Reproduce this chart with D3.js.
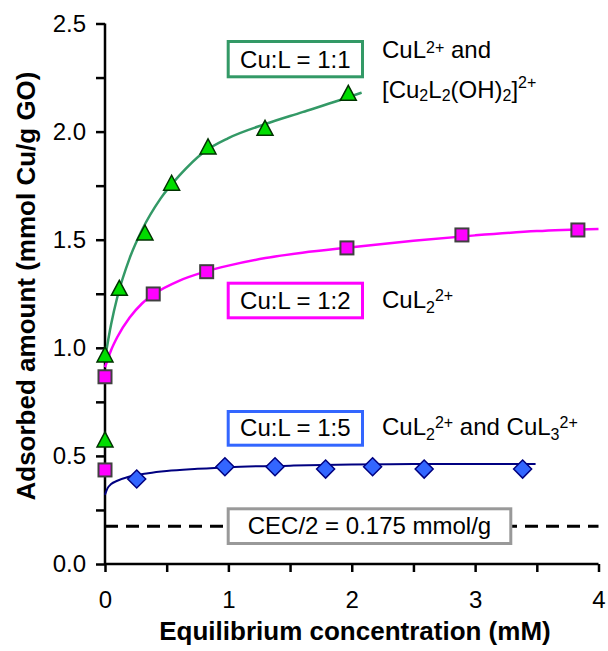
<!DOCTYPE html>
<html>
<head>
<meta charset="utf-8">
<script src="https://cdn.jsdelivr.net/npm/d3@7"></script>
<style>
  body { margin: 0; background: white; }
  svg { font-family: Arial, "Liberation Sans", sans-serif; }
</style>
</head>
<body>
<svg id="chart"></svg>
<script>
// points: [concentration mM, adsorbed mmol/g]
const ratio11 = [[0, 0.574], [0, 0.967], [0.116, 1.275], [0.324, 1.531], [0.54, 1.761], [0.835, 1.929], [1.297, 2.015], [1.972, 2.177]];
const ratio12 = [[0, 0.435], [0, 0.866], [0.391, 1.249], [0.824, 1.352], [1.961, 1.462], [2.893, 1.522], [3.833, 1.545]];
const ratio15 = [[0.257, 0.393], [0.972, 0.45], [1.378, 0.45], [1.788, 0.439], [2.169, 0.45], [2.587, 0.439], [3.385, 0.439]];

// fitted curves
const fit11 = [[0, 0.95], [0.05, 1.11], [0.1, 1.235], [0.2, 1.415], [0.3, 1.545], [0.45, 1.69], [0.6, 1.795], [0.8, 1.905], [1.0, 1.97], [1.3, 2.035], [1.6, 2.09], [1.9, 2.145], [2.08, 2.18]];
const fit12 = [[0, 0.91], [0.05, 0.99], [0.1, 1.05], [0.2, 1.14], [0.3, 1.205], [0.4, 1.25], [0.6, 1.31], [0.8, 1.35], [1.0, 1.38], [1.3, 1.415], [1.6, 1.44], [2.0, 1.465], [2.5, 1.495], [3.0, 1.52], [3.5, 1.54], [4.0, 1.55]];
const fit15 = [[0, 0.32], [0.02, 0.35], [0.05, 0.37], [0.1, 0.385], [0.2, 0.405], [0.35, 0.42], [0.5, 0.43], [0.75, 0.44], [1.0, 0.448], [1.5, 0.455], [2.0, 0.46], [2.5, 0.462], [3.0, 0.463], [3.49, 0.463]];

const cecHalf = 0.175;
const xTicks = [0, 0.5, 1, 1.5, 2, 2.5, 3, 3.5, 4];
const yTicks = [0, 0.25, 0.5, 0.75, 1, 1.25, 1.5, 1.75, 2, 2.25, 2.5];

const width = 608, height = 651;
const svg = d3.select("#chart").attr("width", width).attr("height", height);

const x = d3.scaleLinear().domain([0, 4]).range([105, 598.5]);
const y = d3.scaleLinear().domain([0, 2.5]).range([564, 23.5]);

// AXES
const xAxis = svg.append("g").attr("transform", `translate(0,${y(0)})`)
    .call(d3.axisBottom(x).tickValues(xTicks).tickSize(8).tickPadding(19).tickFormat(d => Number.isInteger(d) ? d : ""));
const yAxis = svg.append("g").attr("transform", `translate(${x(0)},0)`)
    .call(d3.axisLeft(y).tickValues(yTicks).tickSize(9).tickPadding(10).tickFormat(d => (d * 2) % 1 === 0 ? d3.format(".1f")(d) : ""));
[xAxis, yAxis].forEach(g => {
    g.select(".domain").attr("stroke", "#000").attr("stroke-width", 2.5);
    g.selectAll(".tick line").attr("stroke", "#000").attr("stroke-width", 2.5);
    g.selectAll(".tick text").attr("fill", "#000").style("font-size", "24px").style("font-family", "Arial, 'Liberation Sans', sans-serif");
});
xAxis.select(".domain").attr("d", `M${x(0)},0H${x(4)}`);
yAxis.select(".domain").attr("d", `M0,${y(0)}V${y(2.5)}`);

svg.append("text").attr("x", 355).attr("y", 640).attr("text-anchor", "middle").style("font-size", "26px").style("font-weight", "bold").text("Equilibrium concentration (mM)");
svg.append("text").attr("transform", "translate(35,286) rotate(-90)").attr("text-anchor", "middle").style("font-size", "26px").style("font-weight", "bold").text("Adsorbed amount (mmol Cu/g GO)");

// CEC/2 LINE
svg.append("line").attr("x1", x(0)).attr("x2", x(4)).attr("y1", y(cecHalf)).attr("y2", y(cecHalf)).attr("stroke", "#000").attr("stroke-width", 3).attr("stroke-dasharray", "13,8");

// CURVES
const line = d3.line().x(d => x(d[0])).y(d => y(d[1])).curve(d3.curveMonotoneX);
svg.append("path").datum(fit11).attr("fill", "none").attr("stroke", "#339966").attr("stroke-width", 2.5).attr("d", line);
svg.append("path").datum(fit12).attr("fill", "none").attr("stroke", "#FF00FF").attr("stroke-width", 2.5).attr("d", line);
svg.append("path").datum(fit15).attr("fill", "none").attr("stroke", "#000080").attr("stroke-width", 2).attr("d", line);

// MARKERS
svg.selectAll(".sq").data(ratio12).enter().append("rect").attr("class", "sq")
    .attr("x", d => x(d[0]) - 6.5).attr("y", d => y(d[1]) - 6.5).attr("width", 13).attr("height", 13)
    .attr("fill", "#FF00FF").attr("stroke", "#404040").attr("stroke-width", 2);
svg.selectAll(".tri").data(ratio11).enter().append("path").attr("class", "tri")
    .attr("d", d => `M${x(d[0])},${y(d[1]) - 8}L${x(d[0]) + 8},${y(d[1]) + 7}L${x(d[0]) - 8},${y(d[1]) + 7}Z`)
    .attr("fill", "#00DD00").attr("stroke", "#003300").attr("stroke-width", 1.5);
svg.selectAll(".dia").data(ratio15).enter().append("path").attr("class", "dia")
    .attr("d", d => `M${x(d[0])},${y(d[1]) - 9}L${x(d[0]) + 9},${y(d[1])}L${x(d[0])},${y(d[1]) + 9}L${x(d[0]) - 9},${y(d[1])}Z`)
    .attr("fill", "#3366FF").attr("stroke", "#000080").attr("stroke-width", 1.5);

// LABEL BOXES
function box(x0, y0, w, h, color, label, ty) {
    svg.append("rect").attr("x", x0).attr("y", y0).attr("width", w).attr("height", h).attr("fill", "white").attr("stroke", color).attr("stroke-width", 3);
    svg.append("text").attr("x", x0 + w / 2).attr("y", ty).attr("text-anchor", "middle").style("font-size", "24px").text(label);
}
box(228.2, 41.5, 134.3, 35.3, "#339966", "Cu:L = 1:1", 68);
box(228.2, 283.2, 134.3, 34.6, "#FF00FF", "Cu:L = 1:2", 309);
box(228.2, 411.5, 134.3, 33.7, "#3366FF", "Cu:L = 1:5", 436);
box(228.2, 508.8, 282.6, 34.7, "#999999", "CEC/2 = 0.175 mmol/g", 534);

// species labels: [text, baseline shift, small?]
function species(x0, y0, parts) {
    const t = svg.append("text").attr("x", x0).attr("y", y0).style("font-size", "24px");
    let prev = 0;
    parts.forEach(p => {
        t.append("tspan").attr("dy", p[1] - prev).style("font-size", p[2] ? "16px" : "24px").text(p[0]);
        prev = p[1];
    });
}
species(382, 58, [["CuL", 0], ["2+", -5, 1], [" and", 0]]);
species(382, 98, [["[Cu", 0], ["2", 3, 1], ["L", 0], ["2", 3, 1], ["(OH)", 0], ["2", 3, 1], ["]", 0], ["2+", -10, 1]]);
species(382, 308, [["CuL", 0], ["2", 5, 1], ["2+", -7, 1]]);
species(382, 435, [["CuL", 0], ["2", 5, 1], ["2+", -7, 1], [" and CuL", 0], ["3", 5, 1], ["2+", -7, 1]]);
</script>
</body>
</html>
